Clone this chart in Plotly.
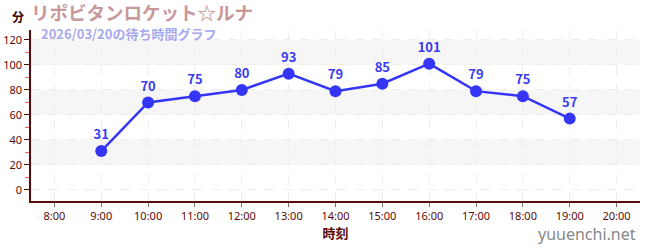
import plotly.graph_objects as go

hours = [9, 10, 11, 12, 13, 14, 15, 16, 17, 18, 19]
waits = [31, 70, 75, 80, 93, 79, 85, 101, 79, 75, 57]
tick_hours = list(range(8, 21))
tick_labels = [f"{h}:00" for h in tick_hours]
title = "リポビタンロケット☆ルナ"
subtitle = "2026/03/20の待ち時間グラフ"

axis_col = "#5a0a0a"
font = "Noto Sans CJK JP"

fig = go.Figure()
# shaded bands
for y0, y1 in [(20, 40), (60, 80), (100, 120)]:
    fig.add_shape(type="rect", xref="paper", yref="y", x0=0, x1=1, y0=y0, y1=y1,
                  fillcolor="#f6f6f6", line_width=0, layer="below")

fig.add_trace(go.Scatter(
    x=hours, y=waits, mode="lines+markers+text",
    line=dict(color="#3535f5", width=2.5),
    marker=dict(color="#3535f5", size=12),
    text=[str(v) for v in waits], textposition="top center",
    textfont=dict(color="#3a3af0", size=13, family=font, weight="bold"),
    cliponaxis=False, hoverinfo="skip"))

fig.update_layout(
    width=650, height=250,
    margin=dict(l=31, r=10, t=30, b=49),
    plot_bgcolor="white", paper_bgcolor="white",
    showlegend=False,
    font=dict(family=font),
)
fig.update_xaxes(range=[7.5, 20.5], tickvals=tick_hours, ticktext=tick_labels,
                 automargin=False,
                 showline=True, linecolor=axis_col, linewidth=1.5,
                 ticks="outside", ticklen=4, tickcolor="#777777",
                 tickfont=dict(color=axis_col, size=11, family="Noto Sans"),
                 showgrid=True, gridcolor="#ededed", griddash="dash", zeroline=False,
                 title=dict(text="<b>時刻</b>", font=dict(color=axis_col, size=13), standoff=6))
fig.update_yaxes(range=[-9, 128], tickvals=list(range(0, 121, 20)),
                 automargin=False,
                 showline=True, linecolor=axis_col, linewidth=1.5,
                 ticks="outside", ticklen=5, tickcolor=axis_col,
                 tickfont=dict(color=axis_col, size=11, family="Noto Sans"),
                 minor=dict(tickvals=list(range(10, 121, 20)), ticks="outside", ticklen=4,
                            tickcolor="#f06060", showgrid=False),
                 showgrid=True, gridcolor="#ededed", griddash="dash", zeroline=False)

fig.add_annotation(xref="paper", yref="paper", x=-0.034, y=1.0, yshift=14,
                   text="<b>分</b>", showarrow=False, xanchor="left", yanchor="middle",
                   font=dict(color="#3a0000", size=12, family=font))
fig.add_annotation(xref="paper", yref="paper", x=-0.003, y=1.0, yshift=18,
                   text="<b>" + title + "</b>", showarrow=False, xanchor="left", yanchor="middle",
                   font=dict(color="#c89898", size=18.5, family=font))
fig.add_annotation(xref="paper", yref="paper", x=0.013, y=1.0, yshift=-3,
                   text="<b>" + subtitle + "</b>", showarrow=False, xanchor="left", yanchor="middle",
                   font=dict(color="#a8a8f0", size=13, family=font))
fig.add_annotation(xref="paper", yref="paper", x=1.0, y=0, yshift=-33, xshift=-2,
                   text="yuuenchi.net", showarrow=False, xanchor="right", yanchor="middle",
                   font=dict(color="#888888", size=16, family="Noto Sans"))

fig.write_html("out.html")
